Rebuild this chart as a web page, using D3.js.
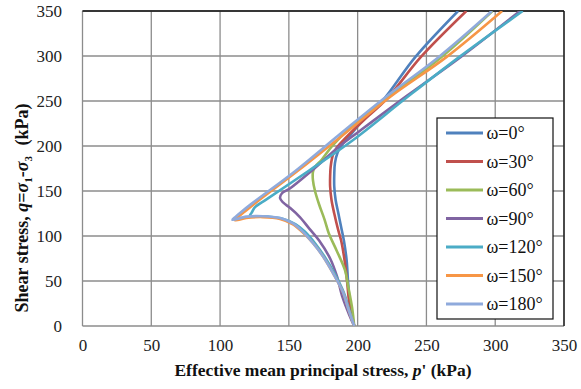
<!DOCTYPE html>
<html>
  <head>
    <meta charset="utf-8" />
    <title>Stress paths</title>
    <style>
      body {
        margin: 0;
        background: #fff;
      }
    </style>
    <script src="https://d3js.org/d3.v7.min.js"></script>
  </head>
  <body>
    <div id="chart"></div>
    <script>
      // stress paths [p', q], one per omega
      var w0 = [[197.5,0],[194.4,25],[193,50],[192,73],[190,95],[188.4,107],[186,125],[184,140],[183,155],[183,168],[183.5,181],[185.5,193],[188.4,201],[193,209],[204,229],[218.5,251],[242,299],[273,350]];
      var w30 = [[197.5,0],[194,25],[192.3,50],[190.5,73],[188,95],[185.8,107],[183,125],[181,140],[180,155],[180,166],[180.4,177],[182,190],[184.8,198],[190,207],[204,228],[221,252],[246,299],[279,350]];
      var w60 = [[197.5,0],[196,20],[193,45],[190.8,62],[184.7,84],[179,103],[176,118],[172,135],[169,150],[167.5,162],[167.5,171],[169,177],[174,185],[182,201],[194.5,220],[228,261],[261,299],[298,350]];
      var w90 = [[197.5,0],[194,12],[189,32],[185,55],[180,75],[172,95],[165,108],[158,121],[151,131],[146,137],[143.6,142],[145,147.5],[151,153],[167,173],[187,200],[200,215],[236,256],[275,299],[318,350]];
      var w120 = [[197.5,0],[193.5,20],[190,37],[183,59],[176,77],[169,92],[161.5,105],[155,113],[146,119],[135,121.5],[126,122],[121.7,122.5],[123,126],[125.4,132],[134,141],[165,173],[197,207],[235,253],[274,299],[320,350]];
      var w150 = [[197.5,0],[193,20],[189.5,37],[182,59],[175,77],[167.6,92],[160,104],[153,113],[143.6,119],[131,121],[119,120],[111,117.5],[113,121],[117,126],[126,137],[157,173],[190,213],[224,255],[264.7,299],[305,350]];
      var w180 = [[197.5,0],[193,20],[189.5,37],[182,59],[175,77],[167.6,92],[160,105],[153,114],[143.6,120],[131,122],[119,121.5],[109,118],[111,121],[114.5,125.6],[123,136],[154.5,172],[187,213],[220,254],[259,299],[297.6,350]];

      var series = [w0, w30, w60, w90, w120, w150, w180];
      var names = ["ω=0°", "ω=30°", "ω=60°", "ω=90°", "ω=120°", "ω=150°", "ω=180°"];
      var colors = ["#4F81BD", "#C0504D", "#9BBB59", "#8064A2", "#4BACC6", "#F79646", "#8FAADC"];
      var ticks = [0, 50, 100, 150, 200, 250, 300, 350];

      var serif = "Liberation Serif";
      var width = 581, height = 389;
      var margin = {top: 11, right: 17, bottom: 63, left: 82.5};

      var svg = d3.select("#chart").append("svg")
        .attr("width", width)
        .attr("height", height);

      var x = d3.scaleLinear().domain([0, 350]).range([margin.left, width - margin.right]);
      var y = d3.scaleLinear().domain([0, 350]).range([height - margin.bottom, margin.top]);

      // grid
      svg.append("g")
        .selectAll("line")
        .data(ticks)
        .enter().append("line")
        .attr("x1", d => x(d)).attr("x2", d => x(d))
        .attr("y1", y(0)).attr("y2", y(350))
        .attr("stroke", "#8c8c8c")
        .attr("stroke-width", 1.3);
      svg.append("g")
        .selectAll("line")
        .data(ticks)
        .enter().append("line")
        .attr("x1", x(0)).attr("x2", x(350))
        .attr("y1", d => y(d)).attr("y2", d => y(d))
        .attr("stroke", "#8c8c8c")
        .attr("stroke-width", 1.3);

      // top and right frame are dark
      svg.append("line")
        .attr("x1", x(0)).attr("x2", x(350))
        .attr("y1", y(350)).attr("y2", y(350))
        .attr("stroke", "#111").attr("stroke-width", 1.3);
      svg.append("line")
        .attr("x1", x(350)).attr("x2", x(350))
        .attr("y1", y(0)).attr("y2", y(350))
        .attr("stroke", "#111").attr("stroke-width", 1.3);

      // axes (labels only)
      var xAxis = svg.append("g")
        .attr("transform", "translate(0," + (y(0) + 9) + ")")
        .call(d3.axisBottom(x).tickValues(ticks).tickSize(0).tickPadding(4))
        .attr("font-family", serif)
        .attr("font-size", 17);
      xAxis.select(".domain").remove();
      xAxis.selectAll("text").attr("fill", "#222")
        .style("font-family", serif).style("font-size", "17px");

      var yAxis = svg.append("g")
        .attr("transform", "translate(" + (x(0) - 20.5) + ",0)")
        .call(d3.axisLeft(y).tickValues(ticks).tickSize(0).tickPadding(0))
        .attr("font-family", serif)
        .attr("font-size", 17);
      yAxis.select(".domain").remove();
      yAxis.selectAll("text").attr("fill", "#222")
        .style("font-family", serif).style("font-size", "17px");

      // clip to the plot area
      svg.append("clipPath").attr("id", "plot-clip")
        .append("rect")
        .attr("x", x(0)).attr("y", y(350))
        .attr("width", x(350) - x(0)).attr("height", y(0) - y(350));

      var line = d3.line()
        .x(d => x(d[0]))
        .y(d => y(d[1]))
        .curve(d3.curveCatmullRom.alpha(0.5));

      svg.append("g")
        .attr("clip-path", "url(#plot-clip)")
        .selectAll("path")
        .data(series)
        .enter().append("path")
        .attr("d", line)
        .attr("fill", "none")
        .attr("stroke", (d, i) => colors[i])
        .attr("stroke-width", 2.6)
        .attr("stroke-linejoin", "round");

      // x title
      var xt = svg.append("text")
        .attr("x", 323).attr("y", 376)
        .attr("text-anchor", "middle")
        .attr("font-weight", "bold")
        .attr("fill", "#111")
        .style("font-family", serif)
        .style("font-size", "17.5px");
      xt.append("tspan").text("Effective mean principal stress, ");
      xt.append("tspan").attr("font-style", "italic").text("p");
      xt.append("tspan").text("' (kPa)");

      // y title
      var yt = svg.append("text")
        .attr("transform", "translate(28,208) rotate(-90)")
        .attr("text-anchor", "middle")
        .attr("font-weight", "bold")
        .attr("fill", "#111")
        .style("font-family", serif)
        .style("font-size", "18px");
      yt.append("tspan").text("Shear stress, ");
      yt.append("tspan").attr("font-style", "italic").text("q");
      yt.append("tspan").text("=");
      yt.append("tspan").attr("font-style", "italic").text("σ");
      yt.append("tspan").style("font-size", "11px").attr("dy", 4).text("1");
      yt.append("tspan").attr("dy", -4).text("-");
      yt.append("tspan").attr("font-style", "italic").text("σ");
      yt.append("tspan").style("font-size", "11px").attr("dy", 4).text("3");
      yt.append("tspan").attr("dy", -4).attr("dx", 6).text(" (kPa)");

      // legend
      var lg = svg.append("g");
      lg.append("rect")
        .attr("x", 437).attr("y", 118)
        .attr("width", 116).attr("height", 201)
        .attr("fill", "#fff")
        .attr("stroke", "#111")
        .attr("stroke-width", 1.2);
      var item = lg.selectAll("g")
        .data(names)
        .enter().append("g")
        .attr("transform", (d, i) => "translate(0," + (133 + i * 28.5) + ")");
      item.append("line")
        .attr("x1", 446).attr("x2", 483)
        .attr("stroke", (d, i) => colors[i])
        .attr("stroke-width", 3);
      item.append("text")
        .attr("x", 486.5).attr("y", 6)
        .attr("fill", "#111")
        .style("font-family", serif)
        .style("font-size", "18px")
        .text(d => d);
    </script>
  </body>
</html>
